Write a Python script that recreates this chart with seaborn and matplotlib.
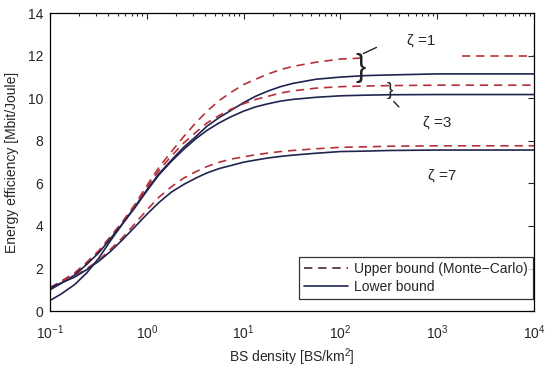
import numpy as np
import pandas as pd
import matplotlib
matplotlib.use('Agg')
import matplotlib.pyplot as plt
from matplotlib.lines import Line2D
import seaborn as sns

# Data (BS density in BS/km^2, energy efficiency in Mbit/Joule)
density = [0.1, 0.13, 0.18, 0.24, 0.32, 0.42, 0.56, 0.75, 1, 1.33, 1.8, 2.4, 3.2, 4.2,
           5.6, 7.5, 10, 13.3, 18, 24, 32, 56, 100, 180, 320, 1000, 1800, 3200, 10000]

upper_z1 = [1.1, 1.4, 1.8, 2.3, 2.85, 3.5, 4.2, 5.0, 5.9, 6.75, 7.5, 8.2, 8.85, 9.4,
            9.9, 10.3, 10.65, 10.9, 11.15, 11.35, 11.5, 11.7, 11.85, 11.9, np.nan,
            np.nan, 12.0, 12.0, 12.0]
lower_z1 = [0.5, 0.8, 1.25, 1.8, 2.5, 3.3, 4.1, 4.9, 5.7, 6.45, 7.1, 7.7, 8.2, 8.7,
            9.1, 9.45, 9.8, 10.1, 10.35, 10.55, 10.7, 10.9, 11.0, 11.07, 11.1,
            11.15, 11.15, 11.15, 11.15]
upper_z3 = [1.05, 1.35, 1.75, 2.25, 2.8, 3.45, 4.15, 4.95, 5.8, 6.6, 7.3, 7.9, 8.4, 8.85,
            9.2, 9.5, 9.75, 9.95, 10.1, 10.25, 10.35, 10.48, 10.55, 10.58, 10.6,
            10.62, 10.62, 10.62, 10.62]
lower_z3 = [1.0, 1.3, 1.7, 2.2, 2.75, 3.4, 4.1, 4.85, 5.65, 6.4, 7.05, 7.6, 8.1, 8.5,
            8.85, 9.15, 9.4, 9.6, 9.75, 9.87, 9.95, 10.05, 10.12, 10.15, 10.17,
            10.18, 10.18, 10.18, 10.18]
upper_z7 = [1.1, 1.35, 1.65, 2.0, 2.4, 2.9, 3.45, 4.1, 4.75, 5.35, 5.85, 6.25, 6.55, 6.8,
            7.0, 7.15, 7.25, 7.35, 7.43, 7.5, 7.55, 7.63, 7.7, 7.72, 7.75,
            7.77, 7.77, 7.77, 7.77]
lower_z7 = [1.1, 1.32, 1.6, 1.95, 2.35, 2.8, 3.35, 3.95, 4.55, 5.1, 5.6, 5.95, 6.25, 6.5,
            6.7, 6.85, 7.0, 7.1, 7.2, 7.27, 7.33, 7.42, 7.5, 7.52, 7.55,
            7.57, 7.57, 7.57, 7.57]

zeta_labels = ['ζ =1', 'ζ =3', 'ζ =7']
legend_labels = ['Upper bound (Monte\u2212Carlo)', 'Lower bound']

sns.set_style('white')
plt.rcParams['font.family'] = ['Liberation Sans', 'DejaVu Sans']
plt.rcParams['mathtext.fontset'] = 'custom'
plt.rcParams['mathtext.rm'] = 'Liberation Sans'

fig = plt.figure(figsize=(5.5, 3.69), dpi=100)
ax = fig.add_axes([0.091, 0.157, 0.88, 0.807])

dash_col = '#b5313a'
solid_col = '#1f2450'

series = [(upper_z1, 'upper'), (lower_z1, 'lower'),
          (upper_z3, 'upper'), (lower_z3, 'lower'),
          (upper_z7, 'upper'), (lower_z7, 'lower')]

for vals, kind in series:
    df = pd.DataFrame({'density': density, 'ee': vals})
    # split into runs of valid values so gaps stay gaps
    df['run'] = df['ee'].isna().cumsum()
    df = df.dropna()
    for _, seg in df.groupby('run'):
        if kind == 'upper':
            sns.lineplot(data=seg, x='density', y='ee', ax=ax, color=dash_col,
                         lw=1.2, estimator=None)
            ax.lines[-1].set_dashes((5, 3.5))
        else:
            sns.lineplot(data=seg, x='density', y='ee', ax=ax, color=solid_col,
                         lw=1.2, estimator=None)

ax.set_xscale('log')
ax.set_xlim(0.1, 1e4)
ax.set_ylim(0, 14)
ax.set_yticks(range(0, 15, 2))
ax.tick_params(which='both', direction='in', top=True, right=True, labelsize=10)
ax.tick_params(which='major', length=4, width=0.8)
ax.tick_params(which='minor', length=2.5, width=0.8)
ax.tick_params(axis='x', which='major', pad=9)
ax.tick_params(axis='y', which='major', pad=5)
ax.xaxis.set_minor_locator(matplotlib.ticker.LogLocator(base=10, subs=np.arange(2, 10)))
for s in ax.spines.values():
    s.set_color('black')
    s.set_linewidth(0.9)

ax.set_xlabel('BS density [BS/km$^2$]', fontsize=10, labelpad=3)
ax.set_ylabel('Energy efficiency [Mbit/Joule]', fontsize=10, labelpad=6)

# zeta labels
ax.text(690, 12.7, zeta_labels[0], fontsize=11, ha='center', va='center')
ax.text(1000, 8.85, zeta_labels[1], fontsize=11, ha='center', va='center')
ax.text(1120, 6.35, zeta_labels[2], fontsize=11, ha='center', va='center')

# hand drawn braces
ax.text(160, 11.45, '}', fontsize=22, ha='center', va='center', color='#222222')
ax.annotate('', xy=(250, 12.45), xytext=(162, 12.05),
            arrowprops=dict(arrowstyle='-', color='#222222', lw=1.0))
ax.text(325, 10.35, '}', fontsize=14, ha='center', va='center', color='#222222')
ax.annotate('', xy=(420, 9.5), xytext=(340, 9.95),
            arrowprops=dict(arrowstyle='-', color='#222222', lw=1.0))

handles = [Line2D([], [], color='#4a2a2a', lw=1.2, dashes=(5, 3.5)),
           Line2D([], [], color=solid_col, lw=1.2)]
leg = ax.legend(handles, legend_labels, loc='lower right', bbox_to_anchor=(0.997, 0.042),
                frameon=True, fancybox=False, fontsize=10, handlelength=3.2,
                borderpad=0.35, labelspacing=0.3, handletextpad=0.4, borderaxespad=0)
leg.get_frame().set_edgecolor('black')
leg.get_frame().set_linewidth(0.9)

fig.savefig('out.png', dpi=100)
